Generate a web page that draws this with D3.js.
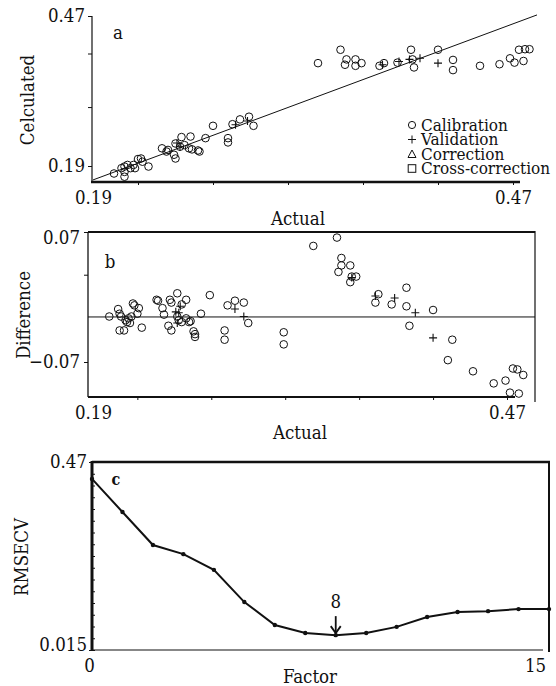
<!DOCTYPE html>
<html>
<head>
<meta charset="utf-8">
<script src="https://cdn.jsdelivr.net/npm/d3@7"></script>
<style>
  body { margin: 0; background: #fff; }
  svg text { font-stretch: condensed; }
</style>
</head>
<body>
<div id="chart"></div>
<script>
// ---- panel a : calculated vs actual ----
var actualA = [0.204,0.211,0.213,0.211,0.211,0.215,0.218,0.220,0.223,0.222,0.227,0.217,0.209,0.236,0.239,0.240,0.245,0.244,0.245,0.249,
  0.255,0.248,0.251,0.254,0.256,0.260,0.261,0.265,0.270,0.280,0.280,0.283,0.288,0.294,0.297,
  0.340,0.355,0.359,0.358,0.365,0.365,0.369,0.381,0.384,0.393,0.402,0.403,0.404,0.420,0.430,0.430,0.448,0.461,0.468,0.471,0.477,0.474,0.478,0.481];
var calcA = [0.176,0.189,0.192,0.179,0.170,0.186,0.186,0.203,0.198,0.204,0.189,0.192,0.186,0.223,0.217,0.220,0.232,0.211,0.204,0.244,
  0.245,0.226,0.229,0.223,0.221,0.219,0.217,0.242,0.265,0.242,0.234,0.268,0.277,0.282,0.265,
  0.382,0.407,0.389,0.379,0.389,0.377,0.382,0.377,0.382,0.383,0.407,0.389,0.374,0.407,0.388,0.369,0.377,0.380,0.391,0.383,0.386,0.407,0.408,0.408];
var valActualA = [0.246,0.248,0.285,0.293,0.383,0.394,0.401,0.408,0.420];
var valCalcA = [0.233,0.226,0.267,0.274,0.379,0.385,0.389,0.391,0.382];
var fitX = [0.19, 0.486];
var fitY = [0.164, 0.472];
var legendNames = ["Calibration", "Validation", "Correction", "Cross-correction"];

// ---- panel b : difference vs actual ----
var actualB = [0.201,0.207,0.208,0.209,0.212,0.213,0.214,0.215,0.216,0.208,
  0.211,0.217,0.218,0.221,0.220,0.223,0.233,0.234,0.237,0.238,
  0.242,0.243,0.241,0.243,0.247,0.250,0.253,0.247,0.248,0.250,
  0.253,0.255,0.256,0.258,0.259,0.259,0.263,0.269,0.281,0.286,
  0.292,0.295,0.279,0.279,0.319,0.319,0.339,0.355,0.358,0.358,
  0.356,0.364,0.365,0.368,0.364,0.383,0.381,0.392,0.402,0.402,
  0.420,0.404,0.433,0.430,0.447,0.461,0.469,0.474,0.477,0.481,
  0.472,0.478];
var diffB = [-0.021,-0.013,-0.018,-0.021,-0.025,-0.027,-0.023,-0.028,-0.021,-0.036,
  -0.036,-0.007,-0.009,-0.012,-0.018,-0.033,-0.003,-0.004,-0.012,-0.019,
  -0.003,-0.006,-0.031,-0.036,0.004,-0.008,-0.003,-0.021,-0.025,-0.027,
  -0.023,-0.027,-0.026,-0.037,-0.040,-0.043,-0.018,0.002,-0.009,-0.004,
  -0.006,-0.028,-0.036,-0.046,-0.038,-0.051,0.055,0.064,0.042,0.034,
  0.027,0.034,0.022,0.022,0.016,0.003,-0.006,-0.008,0.010,-0.010,
  -0.014,-0.031,-0.046,-0.068,-0.080,-0.093,-0.090,-0.077,-0.078,-0.084,
  -0.103,-0.104];
var valActualB = [0.246,0.248,0.249,0.247,0.286,0.292,0.381,0.394,0.408,0.420,0.365];
var valDiffB = [-0.016,-0.017,-0.010,-0.028,-0.013,-0.021,0.001,-0.001,-0.017,-0.044,0.021];
var diffLine = -0.0215; // horizontal reference line as drawn

// ---- panel c : RMSECV vs factor ----
var factors = [0,1,2,3,4,5,6,7,8,9,10,11,12,13,14,15];
var rmsecv = [0.429,0.349,0.269,0.247,0.209,0.131,0.0755,0.056,0.051,0.056,0.071,0.095,0.107,0.109,0.114,0.114];
var bestFactor = 8;

var serif = "DejaVu Serif";
var svg = d3.select("#chart").append("svg")
  .attr("width", 556).attr("height", 686)
  .attr("font-family", serif);

var fs = 18.5;

function txt(g) {
  return g.append("text").attr("font-family", serif).attr("fill", "#111");
}
function circles(g, xs, ys, x, y) {
  g.selectAll(null).data(xs).enter().append("circle")
    .attr("cx", function(d) { return x(d); })
    .attr("cy", function(d, i) { return y(ys[i]); })
    .attr("r", 3.8)
    .attr("fill", "none").attr("stroke", "#111").attr("stroke-width", 1);
}
function crosses(g, xs, ys, x, y) {
  g.selectAll(null).data(xs).enter().append("path")
    .attr("d", function(d, i) {
      var cx = x(d), cy = y(ys[i]);
      return "M" + (cx - 4) + "," + cy + "H" + (cx + 4) + "M" + cx + "," + (cy - 4) + "V" + (cy + 4);
    })
    .attr("stroke", "#111").attr("stroke-width", 1.1);
}
function styleAxis(g) {
  g.attr("font-family", serif).attr("font-size", fs);
  g.select(".domain").remove();
  g.selectAll("line").attr("stroke", "#111");
  g.selectAll("text").attr("fill", "#111");
}

// ================= panel a =================
var xA = d3.scaleLinear().domain([0.19, 0.47]).range([93, 513]);
var yA = d3.scaleLinear().domain([0.19, 0.47]).range([166, 16]);
var gA = svg.append("g");

gA.append("line").attr("x1", 92).attr("x2", 92).attr("y1", yA(0.47)).attr("y2", 182)
  .attr("stroke", "#111").attr("stroke-width", 1.2);
gA.append("line").attr("x1", 91).attr("x2", 520).attr("y1", 182).attr("y2", 182)
  .attr("stroke", "#111").attr("stroke-width", 2.5);

gA.append("g").attr("transform", "translate(92,0)")
  .call(d3.axisLeft(yA).tickValues([0.19, 0.30, 0.40, 0.47]).tickSize(4).tickPadding(3)
    .tickFormat(function(d) { return (d === 0.19 || d === 0.47) ? d.toFixed(2) : ""; }))
  .call(styleAxis);
gA.append("g").attr("transform", "translate(0,182)")
  .call(d3.axisBottom(xA).tickValues([0.22, 0.27, 0.32, 0.37, 0.42, 0.47]).tickSize(3).tickFormat(""))
  .call(styleAxis);
gA.append("g").attr("transform", "translate(0,182)")
  .call(d3.axisBottom(xA).tickValues([0.19, 0.47]).tickSize(0).tickPadding(9).tickFormat(d3.format(".2f")))
  .call(styleAxis);

gA.append("line")
  .attr("x1", xA(fitX[0])).attr("y1", yA(fitY[0]))
  .attr("x2", xA(fitX[1])).attr("y2", yA(fitY[1]))
  .attr("stroke", "#111").attr("stroke-width", 1);

circles(gA, actualA, calcA, xA, yA);
crosses(gA, valActualA, valCalcA, xA, yA);

txt(gA).attr("x", 118).attr("y", 39).attr("font-size", fs).attr("text-anchor", "middle").text("a");
txt(gA).attr("transform", "translate(34,100) rotate(-90)")
  .attr("font-size", 18.5).attr("text-anchor", "middle").text("Celculated");
txt(gA).attr("x", 298).attr("y", 225).attr("font-size", fs).attr("text-anchor", "middle").text("Actual");

// legend
var leg = gA.append("g");
legendNames.forEach(function(name, i) {
  var cy = 125 + i * 14.5;
  var sx = 412;
  if (i === 0) leg.append("circle").attr("cx", sx).attr("cy", cy).attr("r", 3.6)
    .attr("fill", "none").attr("stroke", "#111");
  if (i === 1) leg.append("path").attr("d", "M" + (sx - 4) + "," + cy + "H" + (sx + 4) + "M" + sx + "," + (cy - 4) + "V" + (cy + 4))
    .attr("stroke", "#111");
  if (i === 2) leg.append("path").attr("d", "M" + (sx - 4) + "," + (cy + 3.5) + "L" + sx + "," + (cy - 4) + "L" + (sx + 4) + "," + (cy + 3.5) + "Z")
    .attr("fill", "none").attr("stroke", "#111");
  if (i === 3) leg.append("rect").attr("x", sx - 3.8).attr("y", cy - 3.8).attr("width", 7.6).attr("height", 7.6)
    .attr("fill", "none").attr("stroke", "#111");
  txt(leg).attr("x", 421).attr("y", cy + 5.5).attr("font-size", 17).text(name);
});

// ================= panel b =================
var xB = d3.scaleLinear().domain([0.19, 0.47]).range([93, 507]);
var yB = d3.scaleLinear().domain([-0.07, 0.07]).range([362, 232]);
var gB = svg.append("g");
var bBottom = 397;

gB.append("line").attr("x1", 88).attr("x2", 535).attr("y1", 232).attr("y2", 232).attr("stroke", "#111").attr("stroke-width", 2.2);
gB.append("line").attr("x1", 88).attr("x2", 88).attr("y1", 232).attr("y2", bBottom).attr("stroke", "#111").attr("stroke-width", 1.3);
gB.append("line").attr("x1", 535).attr("x2", 535).attr("y1", 231).attr("y2", 402).attr("stroke", "#111").attr("stroke-width", 1.2);
gB.append("line").attr("x1", 88).attr("x2", 515).attr("y1", bBottom).attr("y2", bBottom).attr("stroke", "#111").attr("stroke-width", 2.2);
gB.append("line").attr("x1", 88).attr("x2", 535).attr("y1", yB(diffLine)).attr("y2", yB(diffLine))
  .attr("stroke", "#111").attr("stroke-width", 1);

gB.append("g").attr("transform", "translate(88,0)")
  .call(d3.axisLeft(yB).tickValues([0.07, 0.024, -0.07]).tickSize(4).tickPadding(4)
    .tickFormat(function(d) { return d === 0.024 ? "" : d3.format(".2f")(d).replace("-", "\u2212"); }))
  .call(styleAxis)
  .call(function(g) { g.selectAll("text").filter(function(d) { return d === 0.07; }).attr("dy", "0.6em"); });
gB.append("g").attr("transform", "translate(0," + bBottom + ")")
  .call(d3.axisBottom(xB).tickValues([0.22, 0.27, 0.32, 0.37, 0.42, 0.47]).tickSize(3).tickFormat(""))
  .call(styleAxis);
gB.append("g").attr("transform", "translate(0," + bBottom + ")")
  .call(d3.axisBottom(xB).tickValues([0.19, 0.47]).tickSize(0).tickPadding(9).tickFormat(d3.format(".2f")))
  .call(styleAxis);

circles(gB, actualB, diffB, xB, yB);
crosses(gB, valActualB, valDiffB, xB, yB);

txt(gB).attr("x", 110).attr("y", 268).attr("font-size", fs).attr("text-anchor", "middle").text("b");
txt(gB).attr("transform", "translate(30,315) rotate(-90)")
  .attr("font-size", 18.5).attr("text-anchor", "middle").text("Difference");
txt(gB).attr("x", 300).attr("y", 439).attr("font-size", fs).attr("text-anchor", "middle").text("Actual");

// ================= panel c =================
var xC = d3.scaleLinear().domain([0, 15]).range([92, 549]);
var yC = d3.scaleLinear().domain([0.015, 0.47]).range([650, 462]);
var gC = svg.append("g");

gC.append("line").attr("x1", 92).attr("x2", 550).attr("y1", 462).attr("y2", 462).attr("stroke", "#111").attr("stroke-width", 2.5);
gC.append("line").attr("x1", 549).attr("x2", 549).attr("y1", 462).attr("y2", 652).attr("stroke", "#111").attr("stroke-width", 2);
gC.append("line").attr("x1", 92).attr("x2", 543).attr("y1", 650).attr("y2", 650).attr("stroke", "#111").attr("stroke-width", 1.2);
gC.append("line").attr("x1", 92).attr("x2", 92).attr("y1", 461).attr("y2", 651).attr("stroke", "#111").attr("stroke-width", 3);

gC.append("g").attr("transform", "translate(92,0)")
  .call(d3.axisLeft(yC).tickValues(d3.range(17).map(function(i) { return 0.015 + i * (0.455 / 16); }))
    .tickSizeInner(-3).tickSizeOuter(0).tickFormat(""))
  .call(styleAxis);
gC.append("g").attr("transform", "translate(92,0)")
  .call(d3.axisLeft(yC).tickValues([0.015, 0.47]).tickSize(3).tickPadding(2).tickFormat(function(d) { return String(d); }))
  .call(styleAxis)
  .call(function(g) { g.selectAll("text").filter(function(d) { return d === 0.015; }).attr("dy", "0.05em"); });
gC.append("g").attr("transform", "translate(0,650)")
  .call(d3.axisBottom(xC).tickValues([0, 15]).tickSize(0).tickPadding(9).tickFormat(d3.format("d")))
  .call(styleAxis);
gC.selectAll("text").filter(function() { return this.textContent === "15"; }).attr("dx", -14);
gC.selectAll("text").filter(function() { return this.textContent === "0"; }).attr("dx", -3);

var line = d3.line().x(function(d) { return xC(d); }).y(function(d, i) { return yC(rmsecv[i]); });
gC.append("path").datum(factors).attr("d", line)
  .attr("fill", "none").attr("stroke", "#111").attr("stroke-width", 2);
gC.selectAll(null).data(factors).enter().append("circle")
  .attr("cx", function(d) { return xC(d); })
  .attr("cy", function(d, i) { return yC(rmsecv[i]); })
  .attr("r", 2.2).attr("fill", "#111");

// arrow at the chosen factor
var ax = xC(bestFactor), tip = yC(rmsecv[bestFactor]) - 2;
gC.append("line").attr("x1", ax).attr("x2", ax).attr("y1", tip - 17).attr("y2", tip)
  .attr("stroke", "#111").attr("stroke-width", 1.8);
gC.append("path").attr("d", "M" + (ax - 5) + "," + (tip - 7) + "L" + ax + "," + tip + "L" + (ax + 5) + "," + (tip - 7))
  .attr("fill", "none").attr("stroke", "#111").attr("stroke-width", 1.8);
txt(gC).attr("x", ax).attr("y", tip - 25).attr("font-size", fs).attr("text-anchor", "middle").text(bestFactor);

txt(gC).attr("x", 116).attr("y", 485).attr("font-size", 16).attr("font-weight", "bold").attr("text-anchor", "middle").text("c");
txt(gC).attr("transform", "translate(28,557) rotate(-90)")
  .attr("font-size", 18.5).attr("text-anchor", "middle").text("RMSECV");
txt(gC).attr("x", 310).attr("y", 683).attr("font-size", fs).attr("text-anchor", "middle").text("Factor");
</script>
</body>
</html>
